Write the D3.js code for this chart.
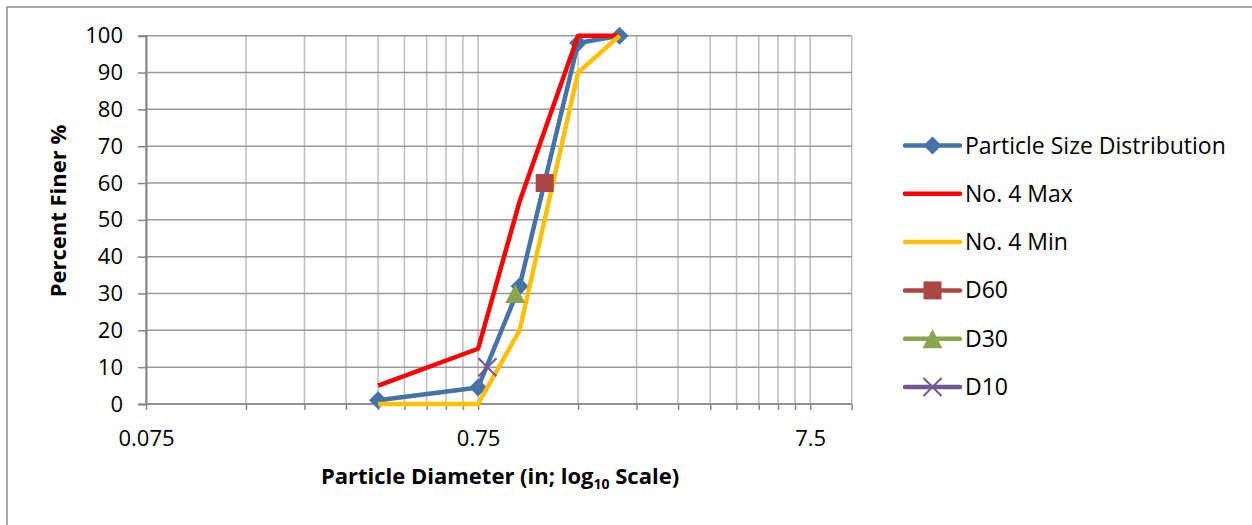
<!DOCTYPE html>
<html>
<head>
<meta charset="utf-8">
<script src="https://cdn.jsdelivr.net/npm/d3@7"></script>
<style>
  html, body { margin: 0; padding: 0; background: #fff; }
  svg { display: block; }
  text { font-family: "Open Sans", Lato, sans-serif; fill: #000; }
</style>
</head>
<body>
<svg id="chart" width="1252" height="525"></svg>
<script>
// ---- data ----
const sieveSizes = [0.375, 0.75, 1.0, 1.5, 2.0];          // inches
const psdValues  = [1, 4.5, 32, 98, 100];                  // Particle Size Distribution
const maxValues  = [5, 15, 55, 100, 100];                  // No. 4 Max
const minValues  = [0, 0, 20, 90, 100];                    // No. 4 Min
const d60Point = [1.19, 60];
const d30Point = [0.97, 30];
const d10Point = [0.80, 10];
const xTickValues = [0.075, 0.75, 7.5];
const xTickLabels = ["0.075", "0.75", "7.5"];
const yTickValues = [0, 10, 20, 30, 40, 50, 60, 70, 80, 90, 100];
const seriesNames = ["Particle Size Distribution", "No. 4 Max", "No. 4 Min", "D60", "D30", "D10"];

const FONT = "'Open Sans', Lato, sans-serif";
const svg = d3.select("#chart");

// outer chart border (cropped on the right/bottom)
svg.append("rect").attr("x", 7).attr("y", 7).attr("width", 1300).attr("height", 700)
  .attr("fill", "none").attr("stroke", "#8c8c8c").attr("stroke-width", 1.5);

const x = d3.scaleLog().domain([0.075, 10]).range([146, 851.7]);
const y = d3.scaleLinear().domain([0, 100]).range([404, 35.7]);

// minor/major vertical gridlines
const vGrid = [];
[0.075, 0.75, 7.5].forEach(b => { for (let k = 1; k <= 9; k++) { const v = +(b * k).toPrecision(6); if (v <= 10) vGrid.push(v); } });
vGrid.push(10);

svg.append("g").selectAll("line").data(vGrid).join("line")
  .attr("x1", d => x(d)).attr("x2", d => x(d))
  .attr("y1", y(100)).attr("y2", y(0))
  .attr("stroke", "#bdbdbd").attr("stroke-width", 1.5);

// horizontal gridlines
svg.append("g").selectAll("line").data(yTickValues).join("line")
  .attr("x1", x(0.075)).attr("x2", x(10))
  .attr("y1", d => y(d)).attr("y2", d => y(d))
  .attr("stroke", "#999999").attr("stroke-width", 1.5);

// y axis
const yAxis = d3.axisLeft(y).tickValues(yTickValues).tickSize(8).tickPadding(15);
const gy = svg.append("g").attr("transform", `translate(${x(0.075)},0)`).call(yAxis);
gy.select(".domain").attr("stroke", "#868686").attr("stroke-width", 2);
gy.selectAll(".tick line").attr("stroke", "#868686").attr("stroke-width", 1.5);
gy.selectAll(".tick text").attr("font-size", 22).attr("font-family", FONT);

// x axis
const xAxis = d3.axisBottom(x).tickValues(vGrid).tickSize(6).tickPadding(20)
  .tickFormat(d => { const i = xTickValues.findIndex(v => Math.abs(v - d) < 1e-9); return i >= 0 ? xTickLabels[i] : ""; });
const gx = svg.append("g").attr("transform", `translate(0,${y(0)})`).call(xAxis);
gx.select(".domain").attr("stroke", "#868686").attr("stroke-width", 1.5).attr("d", `M${x(0.075)},0H${x(10)}`);
gx.selectAll(".tick line").attr("stroke", "#868686").attr("stroke-width", 1.5);
gx.selectAll(".tick text").attr("font-size", 22).attr("font-family", FONT);

// series
const line = d3.line().x(d => x(d[0])).y(d => y(d[1]));
const zip = vals => sieveSizes.map((s, i) => [s, vals[i]]);

const diamond = "M0,-9L9,0L0,9L-9,0Z";
const square = "M-9,-9H9V9H-9Z";
const triangle = "M0,-9.5L10,9.5L-10,9.5Z";
const cross = "M-9,-9L9,9M-9,9L9,-9";

const colBlue = "#4572A7", colRed = "#FF0000", colYellow = "#FFC000";
const colD60 = "#AA4643", colD30 = "#89A54E", colD10 = "#71588F";

// PSD
svg.append("path").datum(zip(psdValues)).attr("d", line)
  .attr("fill", "none").attr("stroke", colBlue).attr("stroke-width", 4.5).attr("stroke-linejoin", "round");
svg.append("g").selectAll("path").data(zip(psdValues)).join("path")
  .attr("d", diamond).attr("transform", d => `translate(${x(d[0])},${y(d[1])})`).attr("fill", colBlue);

// Max
svg.append("path").datum(zip(maxValues)).attr("d", line)
  .attr("fill", "none").attr("stroke", colRed).attr("stroke-width", 4.5).attr("stroke-linejoin", "round");
// Min
svg.append("path").datum(zip(minValues)).attr("d", line)
  .attr("fill", "none").attr("stroke", colYellow).attr("stroke-width", 4.5).attr("stroke-linejoin", "round");

// D markers
svg.append("path").attr("d", square).attr("transform", `translate(${x(d60Point[0])},${y(d60Point[1])})`).attr("fill", colD60);
svg.append("path").attr("d", triangle).attr("transform", `translate(${x(d30Point[0])},${y(d30Point[1])})`).attr("fill", colD30);
svg.append("path").attr("d", cross).attr("transform", `translate(${x(d10Point[0])},${y(d10Point[1])})`)
  .attr("fill", "none").attr("stroke", colD10).attr("stroke-width", 2);

// legend
const legendColors = [colBlue, colRed, colYellow, colD60, colD30, colD10];
const legendMarkers = [diamond, null, null, square, triangle, cross];
const lg = svg.append("g").attr("transform", "translate(905,145.5)");
const items = lg.selectAll("g").data(seriesNames).join("g").attr("transform", (d, i) => `translate(0,${i * 48.3})`);
items.append("line").attr("x1", 0).attr("x2", 55).attr("y1", 0).attr("y2", 0)
  .attr("stroke", (d, i) => legendColors[i]).attr("stroke-width", 4.5).attr("stroke-linecap", "round");
items.each(function (d, i) {
  if (!legendMarkers[i]) return;
  const p = d3.select(this).append("path").attr("d", legendMarkers[i]).attr("transform", "translate(27.5,0)");
  if (i === 5) p.attr("fill", "none").attr("stroke", legendColors[i]).attr("stroke-width", 2);
  else p.attr("fill", legendColors[i]);
});
items.append("text").attr("x", 60).attr("y", 0).attr("dy", "0.35em").attr("font-size", 23).text(d => d);

// axis titles
svg.append("text").attr("transform", "translate(66,211) rotate(-90)").attr("text-anchor", "middle")
  .attr("font-size", 22).attr("font-weight", "bold").text("Percent Finer %");

const xt = svg.append("text").attr("x", 500).attr("y", 484).attr("text-anchor", "middle")
  .attr("font-size", 22).attr("font-weight", "bold");
xt.append("tspan").text("Particle Diameter (in; log");
xt.append("tspan").attr("font-size", 14).attr("dy", 5).text("10");
xt.append("tspan").attr("dy", -5).text(" Scale)");
</script>
</body>
</html>
